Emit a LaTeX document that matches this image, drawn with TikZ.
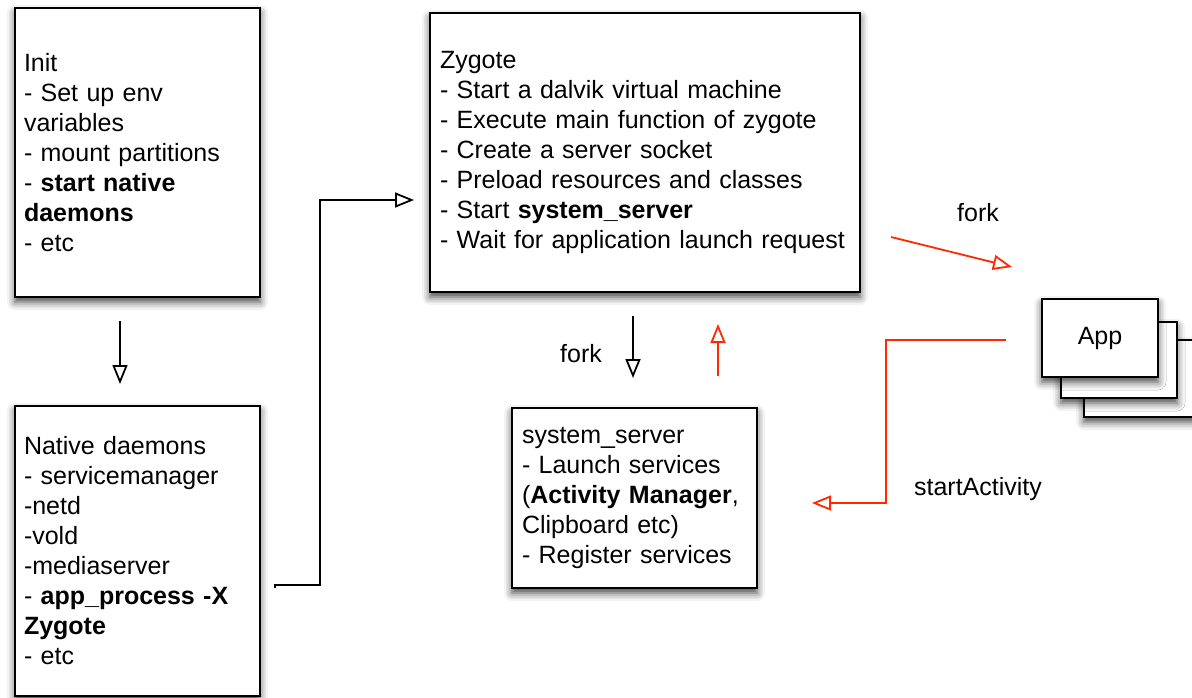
\documentclass[tikz,border=0pt]{standalone}
\usepackage{fontspec}
\setmainfont{Liberation Sans}
\usetikzlibrary{arrows.meta,shadows.blur}
\definecolor{redarr}{RGB}{255,40,0}
\begin{document}
\begin{tikzpicture}[x=1pt,y=-1pt,
  font=\fontsize{25}{30}\selectfont,
  box/.style={draw=black,line width=2pt,fill=white,rectangle,inner sep=0pt,
    blur shadow={shadow xshift=0pt,shadow yshift=-5pt,shadow blur radius=8pt,shadow opacity=75}},
  txt/.style={align=left,text width=#1,inner xsep=0pt},
  arr/.style={line width=1.8pt,-{Triangle[open,length=19pt,width=15pt,line width=1.8pt]}},
  rarr/.style={arr,draw=redarr},
  lbl/.style={inner sep=1pt}]
\useasboundingbox (0,0) rectangle (1192,698);
% boxes
\node[box,minimum width=245pt,minimum height=289pt] (init) at (137.5,152.5) {};
\node[txt=227pt] (initt) at (init) {Init\\- Set up env\\variables\\- mount partitions\\- \textbf{start native}\\\textbf{daemons}\\- etc};
\node[box,minimum width=245pt,minimum height=290pt] (native) at (137.5,551) {};
\node[txt=227pt] (nativet) at (native) {Native daemons\\- servicemanager\\-netd\\-vold\\-mediaserver\\- \textbf{app\_process -X}\\\textbf{Zygote}\\- etc};
\node[box,minimum width=430pt,minimum height=279pt] (zygote) at (645,152.5) {};
\node[txt=410pt] (zygotet) at (zygote) {Zygote\\- Start a dalvik virtual machine\\- Execute main function of zygote\\- Create a server socket\\- Preload resources and classes\\- Start \textbf{system\_server}\\- Wait for application launch request};
\node[box,minimum width=245pt,minimum height=180pt] (sys) at (634.5,498) {};
\node[txt=225pt] (syst) at (sys) {system\_server\\- Launch services\\(\textbf{Activity Manager},\\Clipboard etc)\\- Register services};
% app stack
\node[box,minimum width=120pt,minimum height=77pt] (app3) at (1144,378.5) {};
\node[box,minimum width=116pt,minimum height=76pt] (app2) at (1119,360) {};
\node[box,minimum width=116pt,minimum height=78pt] (app) at (1100,338) {App};
% labels
\node[lbl] (fork1) at (978,213) {fork};
\node[lbl] (fork2) at (581,354) {fork};
\node[lbl] (sa) at (978,489) {startActivity};
% connectors
\draw[arr] ([xshift=-17.5pt,yshift=-23pt]init.south) -- ([xshift=-17.5pt,yshift=21pt]native.north);
\draw[arr] ([xshift=14pt,yshift=-37pt]native.east) -- ++(0,-3) -- ++(45,0) |- ([xshift=-15pt,yshift=-47.5pt]zygote.west);
\draw[arr] ([xshift=-12pt,yshift=-23pt]zygote.south) -- ([xshift=-1.5pt,yshift=29pt]sys.north);
\draw[rarr] ([xshift=83.5pt,yshift=31pt]sys.north) -- ([xshift=73pt,yshift=-31pt]zygote.south);
\draw[rarr] ([xshift=30pt,yshift=-84.5pt]zygote.east) -- ([xshift=-29pt,yshift=71pt]app.west);
\draw[rarr] ([xshift=-35pt,yshift=-2pt]app.west) -- ++(-120,0) |- ([xshift=54pt,yshift=-5pt]sys.east);
\end{tikzpicture}
\end{document}
